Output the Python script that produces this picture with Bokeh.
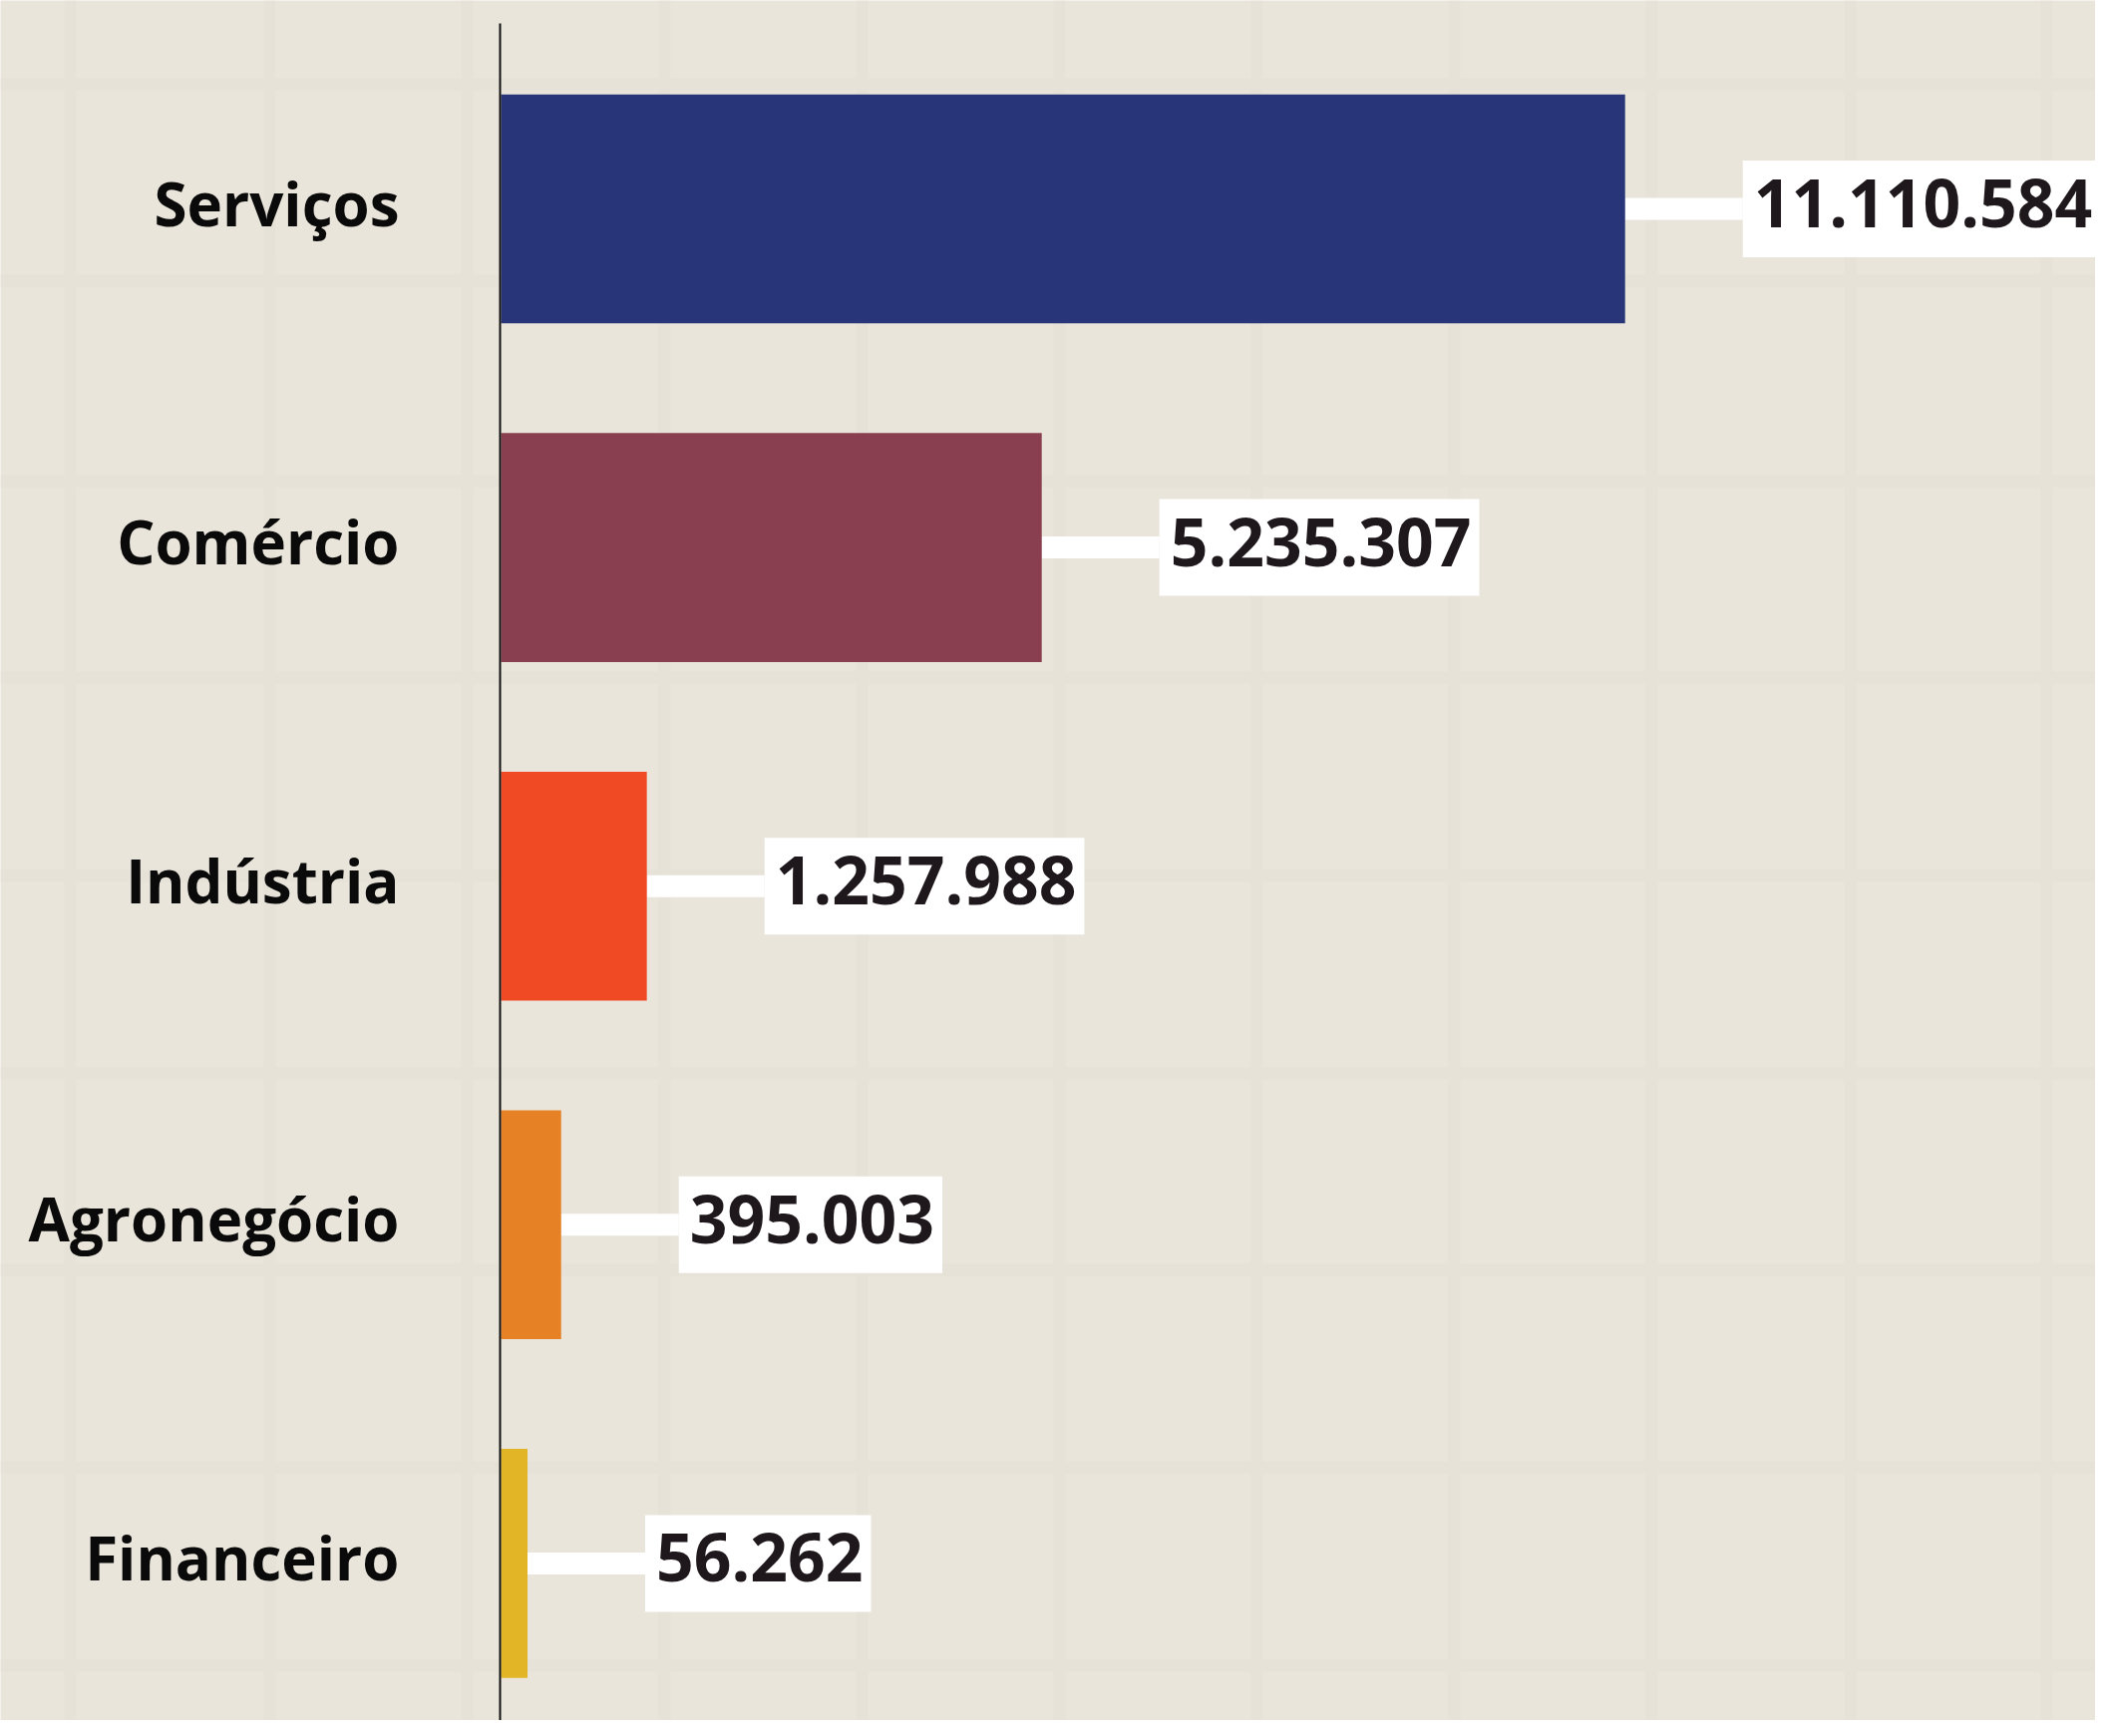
from bokeh.plotting import figure
from bokeh.models import Range1d, FixedTicker, Grid
from bokeh.core.properties import value
from bokeh.embed import file_html
from bokeh.resources import INLINE

# ---- data ----
categories = ["Serviços", "Comércio", "Indústria", "Agronegócio", "Financeiro"]
values = [11110584, 5235307, 1257988, 395003, 56262]
value_labels = ["11.110.584", "5.235.307", "1.257.988", "395.003", "56.262"]
colors = ["#283578", "#8A3F50", "#EF4A24", "#E68125", "#E1B526"]

# ---- layout constants (style) ----
W, H = 2101, 1725
U = 10043.0            # data units per pixel
AXIS_PX = 502          # pixel position of the value axis line
X_PAD = 210000         # short stub so that tiny bars stay visible
ROW_PX = 339.6
x_start = -X_PAD - AXIS_PX * U
x_end = x_start + W * U
y_top = 4 + 209 / ROW_PX
y_bot = y_top - H / ROW_PX
GAP_PX = 118
GAP = GAP_PX * U

ypos = [4, 3, 2, 1, 0]
bg = "#E9E5DA"

p = figure(width=W, height=H, output_backend="svg", toolbar_location=None,
           x_range=Range1d(x_start, x_end), y_range=Range1d(y_bot, y_top),
           x_axis_type=None, y_axis_type=None, min_border=0,
           background_fill_color=bg, border_fill_color=bg)
p.outline_line_color = None

# faint background texture grid
vx = [x_start + px * U for px in [70, 270, 468, 666, 864, 1062, 1260, 1458, 1656, 1855, 2052]]
hy = [y_top - py / ROW_PX for py in [84, 281, 482, 679, 878, 1076, 1273, 1471, 1670]]
p.add_layout(Grid(dimension=0, ticker=FixedTicker(ticks=vx),
                  grid_line_color="#E6E2D7", grid_line_width=12))
p.add_layout(Grid(dimension=1, ticker=FixedTicker(ticks=hy),
                  grid_line_color="#E6E2D7", grid_line_width=12))

# connectors
p.segment(x0=values, y0=ypos, x1=[v + GAP for v in values], y1=ypos,
          line_color="white", line_width=22)

# bars
p.hbar(y=ypos, left=-X_PAD, right=values, height=0.676, fill_color=colors,
       line_color=None)

# axis line
p.segment(x0=[-X_PAD - 1.0 * U], y0=[y_bot], x1=[-X_PAD - 1.0 * U],
          y1=[y_top - 23 / ROW_PX], line_color="#111111", line_width=2)

# value labels
p.text(x=values, y=ypos, text=value_labels, x_offset=GAP_PX, y_offset=0,
       text_align="left", text_baseline="middle",
       text_font=value("Open Sans"), text_font_style="bold",
       text_font_size="66px", text_color="#1E171B",
       background_fill_color="white", padding=(11, 8, 19, 30))

# category labels
p.text(x=-X_PAD, y=ypos, text=categories, x_offset=-102, y_offset=-6,
       text_align="right", text_baseline="middle",
       text_font=value("Open Sans"), text_font_style="bold",
       text_font_size="60px", text_color="#0A0A0A")

open("out.html", "w").write(file_html(p, INLINE))
